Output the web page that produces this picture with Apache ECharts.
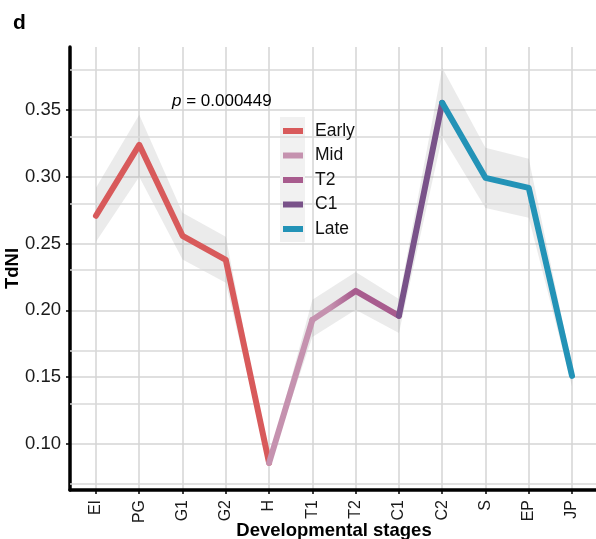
<!DOCTYPE html>
<html>
<head>
<meta charset="utf-8">
<script src="https://cdn.jsdelivr.net/npm/echarts@6/dist/echarts.min.js"></script>
<style>
html,body{margin:0;padding:0;background:#fff;}
#chart{width:596px;height:539px;}
</style>
</head>
<body>
<div id="chart"></div>
<script>
const categories = ['EI','PG','G1','G2','H','T1','T2','C1','C2','S','EP','JP'];
const tdni  = [0.2707,0.3238,0.2557,0.2377,0.0858,0.1928,0.2145,0.1958,0.3552,0.2991,0.2916,0.1509];
const lower = [0.2512,0.2999,0.2380,0.2205,0.0835,0.1800,0.2003,0.1830,0.3300,0.2766,0.2692,0.1430];
const upper = [0.2916,0.3463,0.2730,0.2550,0.0880,0.2078,0.2287,0.2085,0.3814,0.3216,0.3133,0.1580];
const stageNames  = ['Early','Mid','T2','C1','Late'];
const stageColors = ['#d85a5b','#c592af','#a85c8e','#795289','#2393b7'];
const stageStart  = [0,4,5,7,8];
const stageEnd    = [4,5,7,8,11];
const yTicks = [0.10,0.15,0.20,0.25,0.30,0.35];
const yMinor = [0.075,0.125,0.175,0.225,0.275,0.325,0.375];
const pText = '0.000449';

const chart = echarts.init(document.getElementById('chart'));
const font = 'Liberation Sans, Arial, sans-serif';
const xIdx = categories.map((c,i)=>i);

const lineSeries = stageNames.map((name,s)=>{
  const pts = [];
  for(let i=stageStart[s];i<=stageEnd[s];i++) pts.push([i,tdni[i]]);
  let color = stageColors[s];
  if(name==='T2'){
    color = new echarts.graphic.LinearGradient(0,0,1,0,[
      {offset:0,color:stageColors[1]},
      {offset:0.22,color:stageColors[1]},
      {offset:0.47,color:stageColors[2]},
      {offset:1,color:stageColors[2]}
    ]);
  }
  return {
    name:name, type:'line', data:pts, showSymbol:false, symbol:'none',
    silent:true, z:5,
    lineStyle:{color:color,width:6,cap:'round',join:'round'},
    itemStyle:{color:stageColors[s]}
  };
});

const option = {
  animation:false,
  backgroundColor:'#fff',
  title:{text:'d',left:8,top:8,textStyle:{fontFamily:font,fontWeight:'bold',fontSize:21,color:'#000'}},
  grid:{left:70,top:47,width:528,height:443,containLabel:false,outerBoundsMode:'none'},
  legend:{
    orient:'vertical',left:278,top:117,itemWidth:20,itemHeight:6,itemGap:6.5,z:10,
    icon:'rect',selectedMode:false,
    textStyle:{fontFamily:font,fontSize:17.5,color:'#111',lineHeight:18,padding:[0,0,0,7]},
    data:stageNames.map((n,i)=>({name:n,icon:'rect',itemStyle:{color:stageColors[i],borderWidth:0}}))
  },
  graphic:[
    {type:'rect',shape:{x:280,y:117,width:25,height:125},style:{fill:'#f1f1f1'},z:3,silent:true},
    {type:'text',x:172,y:101,z:10,silent:true,style:{
      text:'{i|p}{n| = '+pText+'}',verticalAlign:'middle',
      rich:{i:{fontFamily:font,fontStyle:'italic',fontSize:17,fill:'#000'},
            n:{fontFamily:font,fontSize:17,fill:'#000'}}
    }}
  ],
  xAxis:{
    type:'value',min:-0.6,max:11.6,
    name:'Developmental stages',nameLocation:'middle',nameGap:31,nameMoveOverlap:false,
    nameTextStyle:{fontFamily:font,fontWeight:'bold',fontSize:18.5,color:'#000'},
    axisLine:{show:true,onZero:false,lineStyle:{color:'#000',width:3.5}},
    axisTick:{show:true,customValues:xIdx,length:4,lineStyle:{color:'#000',width:1.5}},
    axisLabel:{customValues:xIdx,rotate:90,margin:10,fontFamily:font,fontSize:16,color:'#1a1a1a',
      formatter:v=>categories[Math.round(v)]},
    splitLine:{show:true,lineStyle:{color:'#d4d4d4',width:1.5}}
  },
  yAxis:{
    type:'value',min:0.0655,max:0.397,
    name:'TdNI',nameLocation:'middle',nameGap:48,nameMoveOverlap:false,
    nameTextStyle:{fontFamily:font,fontWeight:'bold',fontSize:18.5,color:'#000'},
    axisLine:{show:true,onZero:false,lineStyle:{color:'#000',width:3.5}},
    axisTick:{show:true,customValues:yTicks,length:4,lineStyle:{color:'#000',width:1.5}},
    axisLabel:{customValues:yTicks,margin:9,fontFamily:font,fontSize:18.5,color:'#1a1a1a',
      formatter:v=>v.toFixed(2)},
    splitLine:{show:true,lineStyle:{color:'#d4d4d4',width:1.5}}
  },
  series:[
    {
      type:'line',name:'minor',data:[],silent:true,z:1,
      markLine:{silent:true,symbol:'none',label:{show:false},animation:false,
        lineStyle:{color:'#d9d9d9',width:1.5,type:'solid'},
        data:yMinor.map(v=>({yAxis:v}))}
    },
    {
      type:'custom',name:'band',silent:true,z:2,
      data:[[0]],
      renderItem:(params,api)=>{
        const pts=[];
        for(let i=0;i<categories.length;i++) pts.push(api.coord([i,upper[i]]));
        for(let i=categories.length-1;i>=0;i--) pts.push(api.coord([i,lower[i]]));
        return {type:'polygon',shape:{points:pts},style:{fill:'rgba(153,153,153,0.2)'}};
      }
    },
    ...lineSeries
  ]
};
chart.setOption(option);
</script>
</body>
</html>
